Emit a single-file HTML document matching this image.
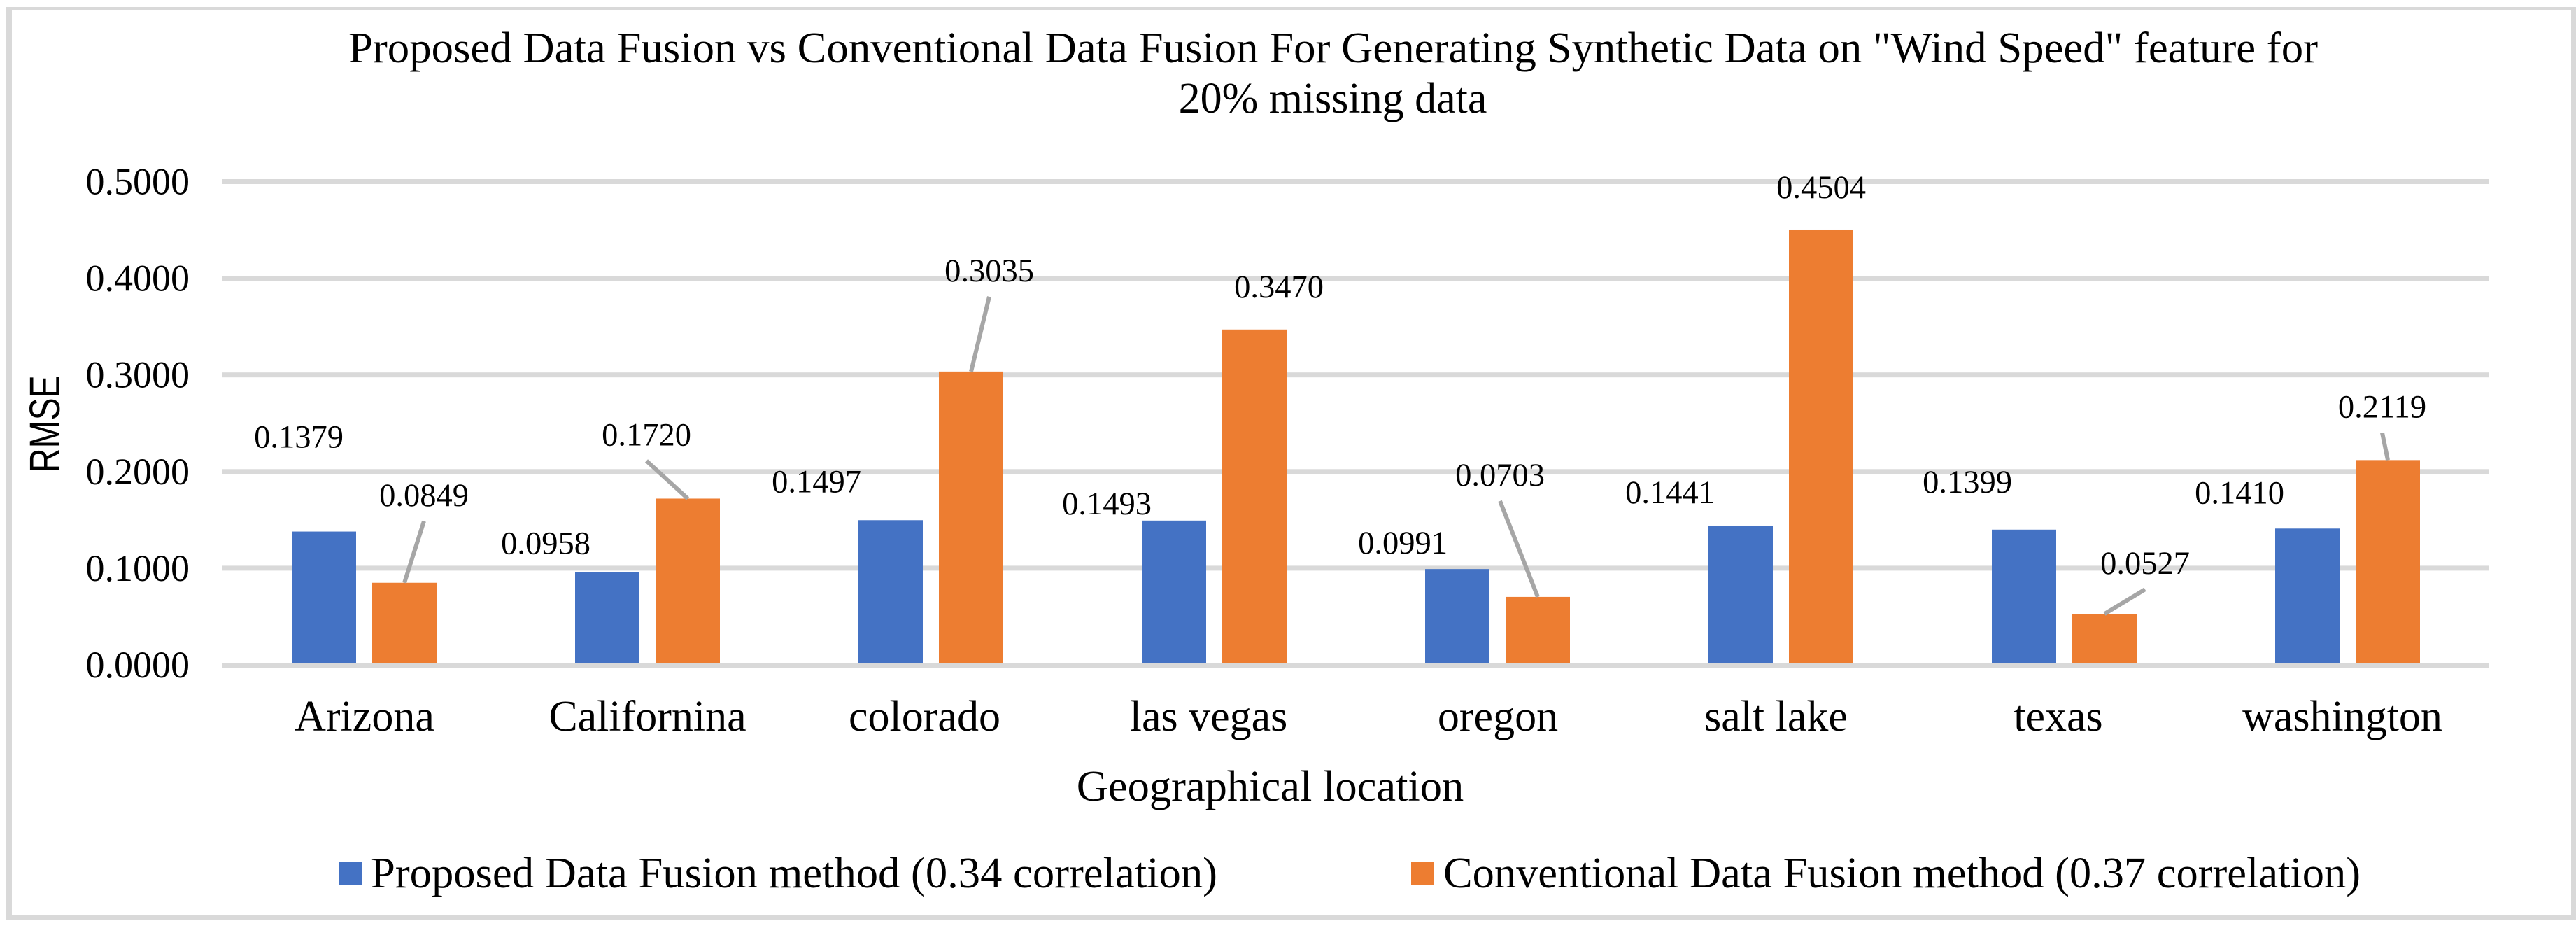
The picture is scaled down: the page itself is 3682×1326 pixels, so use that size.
<!DOCTYPE html>
<html lang="en">
<head>
<meta charset="utf-8">
<title>Proposed vs Conventional Data Fusion</title>
<style>
html,body{margin:0;padding:0;background:#fff;}
svg{display:block;}
text{font-family:"Liberation Serif","Times New Roman",serif;fill:#000;}
</style>
</head>
<body>
<svg id="chart" xmlns="http://www.w3.org/2000/svg" width="3682" height="1326" viewBox="0 0 3682 1326">
  <rect x="0" y="0" width="3682" height="1326" fill="#ffffff"/>
  <path fill="#d9d9d9" fill-rule="evenodd" d="M9 10H3682V1314H9ZM17 14V1308H3675V14Z"/>
  <g id="grid"></g>
  <g id="bars"></g>
  <g id="axis"></g>
  <g id="ticks"></g>
  <g id="cats"></g>
  <g id="leaders"></g>
  <g id="labels"></g>
  <g>
    <text x="498" y="89" font-size="62" textLength="2815" lengthAdjust="spacingAndGlyphs" fill="#111">Proposed Data Fusion vs Conventional Data Fusion For Generating Synthetic Data on "Wind Speed" feature for</text>
    <text x="1905" y="161" font-size="62" text-anchor="middle" fill="#111">20% missing data</text>
  </g>
  <text transform="translate(85,675) rotate(-90) scale(1,1.28)" font-size="48" style="font-family:'Liberation Sans',Arial,sans-serif">RMSE</text>
  <text x="1815.5" y="1144" font-size="62.5" text-anchor="middle">Geographical location</text>
  <g>
    <rect x="485" y="1232" width="32" height="33" fill="#4472c4"/>
    <text x="530" y="1268" font-size="62" textLength="1210" lengthAdjust="spacingAndGlyphs">Proposed Data Fusion method (0.34 correlation)</text>
    <rect x="2017" y="1232" width="33" height="33" fill="#ed7d31"/>
    <text x="2063" y="1268" font-size="62" textLength="1311" lengthAdjust="spacingAndGlyphs">Conventional Data Fusion method (0.37 correlation)</text>
  </g>
</svg>
<script>
const categories = ["Arizona", "Californina", "colorado", "las vegas", "oregon", "salt lake", "texas", "washington"];
const proposedValues = [0.1379, 0.0958, 0.1497, 0.1493, 0.0991, 0.1441, 0.1399, 0.1410];
const conventionalValues = [0.0849, 0.1720, 0.3035, 0.3470, 0.0703, 0.4504, 0.0527, 0.2119];
const tickValues = [0, 0.1, 0.2, 0.3, 0.4, 0.5];
const tickLabels = ["0.0000", "0.1000", "0.2000", "0.3000", "0.4000", "0.5000"];

/* Layout only: where each label sits relative to its band or bar top. */
const categoryNudgeX = [0.5, 0, -9, -8, 0.5, -7, -8.5, -7.5];
const proposedNudgeX = [-36, -88, -106, -96, -78, -101, -81, -97];
const proposedNudgeY = [-120, -26, -40, -9, -22, -32, -53, -36];
const conventionalNudgeX = [28, -59, 26, 35, -54, 0, 58, -8];
const conventionalNudgeY = [-110, -76, -129, -46, -159, -45, -57, -61];
const conventionalLeader = [true, true, true, false, true, false, true, true];

const NS = 'http://www.w3.org/2000/svg';
const plotLeft = 318, plotRight = 3558, zeroY = 950, pxPerUnit = 1381;
const bandWidth = (plotRight - plotLeft) / categories.length;
const barWidth = 92, seriesOffset = 57.5;

function yScale(v) { return zeroY - v * pxPerUnit; }
function xBand(i) { return plotLeft + bandWidth * (i + 0.5); }
function make(tag, attrs) {
  const el = document.createElementNS(NS, tag);
  for (const k in attrs) el.setAttribute(k, attrs[k]);
  return el;
}

const gridG = document.getElementById('grid');
const tickG = document.getElementById('ticks');
tickValues.forEach(function (v, i) {
  if (v !== 0) {
    const line = make('rect', { x: plotLeft, y: yScale(v) - 3.5, width: plotRight - plotLeft, height: 7, fill: '#d9d9d9' });
    
    
    gridG.appendChild(line);
  }
  const t = make('text', { x: 271, y: yScale(v) + 18, 'font-size': 54, 'text-anchor': 'end' });
  
  
  t.textContent = tickLabels[i];
  tickG.appendChild(t);
});

const barsG = document.getElementById('bars');
const labelsG = document.getElementById('labels');
const leadersG = document.getElementById('leaders');
const catsG = document.getElementById('cats');

categories.forEach(function (name, i) {
  const c = make('text', { x: xBand(i) + categoryNudgeX[i], y: 1044, 'font-size': 62, 'text-anchor': 'middle' });
  
  
  c.textContent = name;
  catsG.appendChild(c);

  const bx = xBand(i) - seriesOffset;
  const by = yScale(proposedValues[i]);
  const blue = make('rect', { x: bx - barWidth / 2, y: by, width: barWidth, height: Math.max(0, zeroY - by), fill: '#4472c4' });
  
  
  barsG.appendChild(blue);

  const ox = xBand(i) + seriesOffset;
  const oy = yScale(conventionalValues[i]);
  const orange = make('rect', { x: ox - barWidth / 2, y: oy, width: barWidth, height: Math.max(0, zeroY - oy), fill: '#ed7d31' });
  
  
  barsG.appendChild(orange);

  const bl = make('text', { x: bx + proposedNudgeX[i], y: by + proposedNudgeY[i], 'font-size': 46.5, 'text-anchor': 'middle', fill: '#111' });
  
  
  bl.textContent = proposedValues[i].toFixed(4);
  labelsG.appendChild(bl);

  const lx = ox + conventionalNudgeX[i];
  const ly = oy + conventionalNudgeY[i];
  const ol = make('text', { x: lx, y: ly, 'font-size': 46.5, 'text-anchor': 'middle', fill: '#111' });
  
  
  ol.textContent = conventionalValues[i].toFixed(4);
  labelsG.appendChild(ol);

  if (conventionalLeader[i]) {
    const ld = make('line', { x1: ox, y1: oy, x2: lx, y2: ly + 22, stroke: '#a6a6a6', 'stroke-width': 6 });
    
    
    leadersG.appendChild(ld);
  }
});

const axisLine = make('rect', { x: plotLeft, y: zeroY - 3, width: plotRight - plotLeft, height: 7, fill: '#d9d9d9' });


document.getElementById('axis').appendChild(axisLine);
</script>
</body>
</html>
